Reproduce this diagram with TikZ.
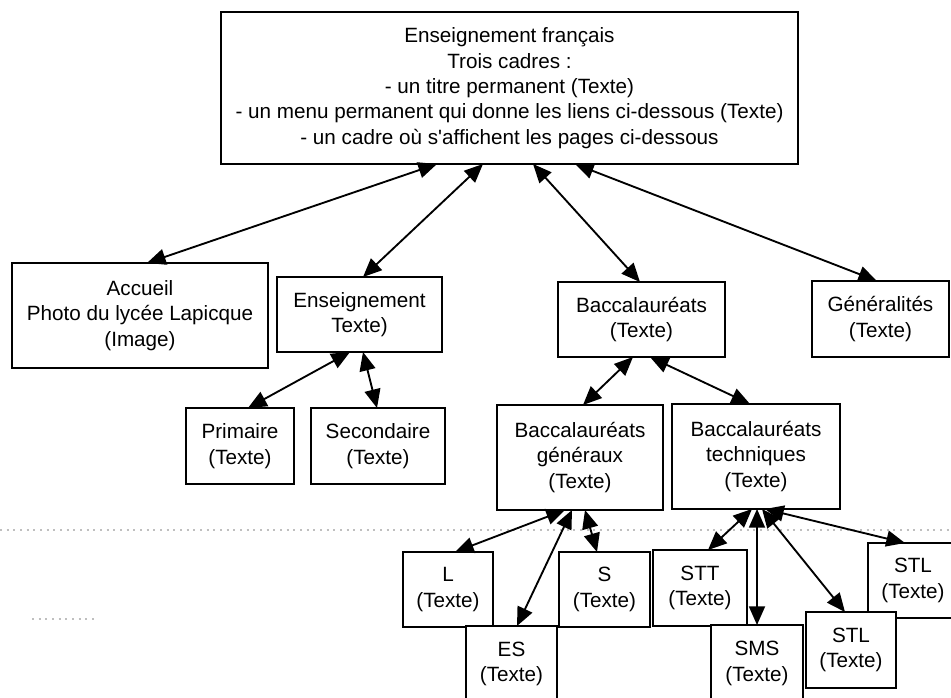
\documentclass[tikz,border=0pt]{standalone}
\usepackage{fontspec}
\setmainfont{Liberation Sans}
\usetikzlibrary{arrows.meta,calc}
\begin{document}
\begin{tikzpicture}[x=0.75pt,y=-0.75pt,
  bx/.style 2 args={draw, fill=white, line width=1.4pt, inner sep=0pt, outer sep=0pt,
    align=center, minimum width=#1*0.75pt, minimum height=#2*0.75pt,
    font=\fontsize{15.5}{19}\selectfont},
  arr/.style={{Triangle[length=14pt,width=12pt]}-{Triangle[length=14pt,width=12pt]}, line width=1.4pt},
  scan/.style={draw=black!25, line width=0.8pt, dash pattern=on 1.5pt off 3.5pt}]
\useasboundingbox (0,0) rectangle (951,698);
\clip (0,0) rectangle (951,698);
\fill[white] (0,0) rectangle (951,698);
% scan artefacts
\draw[scan] (0,530) -- (951,530);
\draw[scan] (32,619) -- (95,619);
% boxes
\node[bx={577}{152}] (top) at (509.5,88) {Enseignement français\\Trois cadres :\\- un titre permanent (Texte)\\- un menu permanent qui donne les liens ci-dessous (Texte)\\- un cadre où s\textquotesingle affichent les pages ci-dessous};
\node[bx={256}{105}] (acc) at (140,315.5) {Accueil\\Photo du lycée Lapicque\\(Image)};
\node[bx={165}{75}] (ens) at (359.5,314.5) {Enseignement\\Texte)};
\node[bx={167}{75}] (bac) at (641.5,319.5) {Baccalauréats\\(Texte)};
\node[bx={137}{76}] (gen) at (880.5,319) {Généralités\\(Texte)};
\node[bx={108}{76}] (pri) at (240,446) {Primaire\\(Texte)};
\node[bx={134}{76}] (sec) at (378,446) {Secondaire\\(Texte)};
\node[bx={166}{105}] (bgen) at (580,457.5) {Baccalauréats\\généraux\\(Texte)};
\node[bx={168}{105}] (btec) at (756,456.5) {Baccalauréats\\techniques\\(Texte)};
\node[bx={90}{75}] (l) at (448,589.5) {L\\(Texte)};
\node[bx={91}{76}] (es) at (511.5,664) {ES\\(Texte)};
\node[bx={91}{75}] (s) at (604.5,589.5) {S\\(Texte)};
\node[bx={94}{76}] (stt) at (700,588) {STT\\(Texte)};
\node[bx={92}{77}] (sms) at (757,663.5) {SMS\\(Texte)};
\node[bx={90}{75}] (stla) at (913,580.5) {STL\\(Texte)};
\node[bx={90}{76}] (stlb) at (851,650) {STL\\(Texte)};
% connectors
\draw[arr] ($(top.south west)+(216,0)$) -- ($(acc.north west)+(135,0)$);
\draw[arr] ($(top.south west)+(262,0)$) -- ($(ens.north west)+(86,0)$);
\draw[arr] ($(top.south west)+(312,0)$) -- ($(bac.north west)+(82,0)$);
\draw[arr] ($(top.south west)+(354,0)$) -- ($(gen.north west)+(65,0)$);
\draw[arr] ($(ens.south west)+(73,0)$) -- ($(pri.north west)+(62,0)$);
\draw[arr] ($(ens.south west)+(86,0)$) -- ($(sec.north west)+(66,0)$);
\draw[arr] ($(bac.south west)+(75,0)$) -- ($(bgen.north west)+(86,0)$);
\draw[arr] ($(bac.south west)+(92,0)$) -- ($(btec.north west)+(78,0)$);
\draw[arr] ($(bgen.south west)+(68,0)$) -- ($(l.north west)+(52,0)$);
\draw[arr] ($(bgen.south west)+(75,0)$) -- ($(es.north west)+(51,0)$);
\draw[arr] ($(bgen.south west)+(88,0)$) -- ($(s.north west)+(38,0)$);
\draw[arr] ($(btec.south west)+(80,0)$) -- ($(stt.north west)+(55,0)$);
\draw[arr] ($(btec.south west)+(85,0)$) -- ($(sms.north west)+(46,0)$);
\draw[arr] ($(btec.south west)+(90,0)$) -- ($(stlb.north west)+(39,0)$);
\draw[arr] ($(btec.south west)+(93,0)$) -- ($(stla.north west)+(37,0)$);
\end{tikzpicture}
\end{document}
